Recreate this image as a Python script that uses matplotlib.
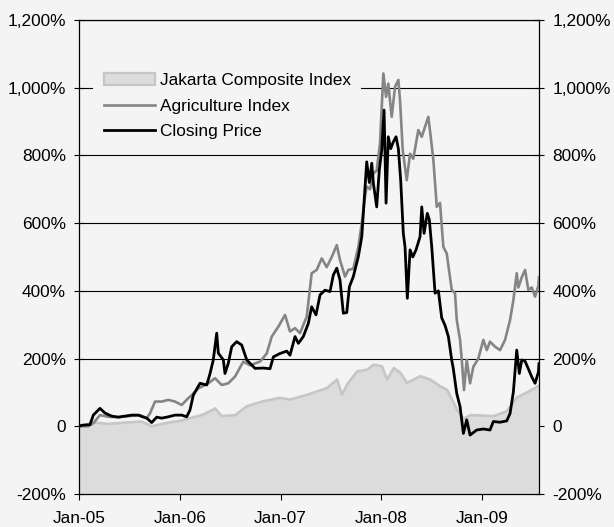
import matplotlib
matplotlib.use("Agg")
import matplotlib.pyplot as plt
from matplotlib.patches import Patch
from matplotlib.lines import Line2D
from matplotlib.ticker import FuncFormatter

# ---- data (x in decimal years, y in % change) ----
close_t = [2005.000, 2005.027, 2005.109, 2005.142, 2005.208, 2005.258, 2005.324, 2005.390, 2005.456, 2005.523,
           2005.588, 2005.622, 2005.672, 2005.721, 2005.771, 2005.820, 2005.886, 2005.952, 2006.019, 2006.068,
           2006.101, 2006.134, 2006.200, 2006.267, 2006.300, 2006.332, 2006.366, 2006.382, 2006.432, 2006.448,
           2006.481, 2006.515, 2006.564, 2006.614, 2006.664, 2006.746, 2006.828, 2006.895, 2006.928, 2006.994,
           2007.061, 2007.093, 2007.143, 2007.176, 2007.225, 2007.275, 2007.308, 2007.351, 2007.391, 2007.440,
           2007.490, 2007.523, 2007.557, 2007.589, 2007.622, 2007.656, 2007.682, 2007.721, 2007.771, 2007.805,
           2007.827, 2007.854, 2007.880, 2007.904, 2007.920, 2007.953, 2007.979, 2008.003, 2008.026, 2008.046,
           2008.068, 2008.092, 2008.118, 2008.145, 2008.168, 2008.191, 2008.217, 2008.234, 2008.257, 2008.284,
           2008.311, 2008.343, 2008.383, 2008.400, 2008.423, 2008.455, 2008.475, 2008.499, 2008.532, 2008.565,
           2008.598, 2008.631, 2008.664, 2008.697, 2008.713, 2008.747, 2008.780, 2008.813, 2008.846, 2008.879,
           2008.945, 2009.011, 2009.077, 2009.110, 2009.177, 2009.243, 2009.276, 2009.309, 2009.342, 2009.368,
           2009.392, 2009.425, 2009.457, 2009.491, 2009.524, 2009.557, 2009.563]
close_v = [0, 3, 5, 33, 53, 39, 30, 27, 30, 33,
           33, 29, 24, 11, 27, 24, 28, 33, 33, 28,
           48, 92, 127, 122, 156, 196, 275, 216, 196, 156,
           186, 235, 250, 240, 196, 171, 172, 170, 205, 215,
           222, 210, 265, 245, 265, 304, 353, 329, 388, 402,
           398, 447, 467, 432, 334, 336, 412, 442, 501, 560,
           659, 781, 720, 777, 718, 648, 757, 816, 934, 659,
           855, 820, 840, 855, 820, 727, 570, 530, 378, 521,
           500, 521, 560, 648, 570, 629, 610, 530, 393, 400,
           320, 298, 265, 196, 170, 97, 58, -21, 19, -26,
           -11, -8, -11, 14, 12, 16, 38, 102, 225, 156,
           196, 192, 170, 146, 127, 160, 185]

agri_t = [2005.000, 2005.092, 2005.142, 2005.208, 2005.291, 2005.390, 2005.489, 2005.605, 2005.672, 2005.704,
          2005.754, 2005.820, 2005.886, 2005.952, 2006.019, 2006.084, 2006.118, 2006.184, 2006.283, 2006.349,
          2006.416, 2006.481, 2006.548, 2006.630, 2006.696, 2006.796, 2006.862, 2006.912, 2006.977, 2007.044,
          2007.093, 2007.143, 2007.192, 2007.259, 2007.308, 2007.358, 2007.408, 2007.457, 2007.507, 2007.557,
          2007.589, 2007.639, 2007.672, 2007.721, 2007.771, 2007.805, 2007.837, 2007.854, 2007.887, 2007.920,
          2007.953, 2007.986, 2008.019, 2008.046, 2008.068, 2008.102, 2008.135, 2008.168, 2008.185, 2008.211,
          2008.251, 2008.284, 2008.316, 2008.366, 2008.400, 2008.433, 2008.465, 2008.489, 2008.515, 2008.549,
          2008.581, 2008.614, 2008.648, 2008.697, 2008.730, 2008.747, 2008.780, 2008.797, 2008.819, 2008.846,
          2008.879, 2008.912, 2008.961, 2009.011, 2009.045, 2009.077, 2009.127, 2009.177, 2009.226, 2009.276,
          2009.309, 2009.342, 2009.358, 2009.392, 2009.425, 2009.457, 2009.491, 2009.524, 2009.557, 2009.563]
agri_v = [0, 0, 9, 33, 28, 27, 30, 33, 24, 38,
          73, 73, 78, 73, 63, 83, 92, 112, 127, 142,
          122, 127, 147, 191, 180, 191, 215, 265, 294, 329,
          280, 290, 275, 324, 452, 462, 496, 470, 500, 535,
          491, 442, 462, 465, 530, 600, 678, 708, 700, 747,
          755, 836, 1042, 973, 1012, 914, 1003, 1023, 960, 816,
          727, 805, 790, 875, 855, 885, 914, 855, 787, 648,
          660, 530, 510, 403, 393, 314, 255, 196, 107, 196,
          127, 176, 200, 255, 225, 250, 235, 225, 255, 314,
          373, 452, 410, 440, 462, 403, 410, 383, 415, 440]

jci_t = [2005.000, 2005.159, 2005.291, 2005.456, 2005.622, 2005.721, 2005.886, 2006.019, 2006.101, 2006.217,
         2006.332, 2006.349, 2006.416, 2006.548, 2006.664, 2006.828, 2006.994, 2007.093, 2007.262, 2007.460,
         2007.560, 2007.609, 2007.659, 2007.758, 2007.857, 2007.923, 2008.006, 2008.056, 2008.122, 2008.188,
         2008.254, 2008.320, 2008.386, 2008.485, 2008.584, 2008.651, 2008.700, 2008.750, 2008.816, 2008.882,
         2008.981, 2009.114, 2009.246, 2009.345, 2009.444, 2009.563]
jci_v = [0, 11, 7, 11, 14, 0, 11, 17, 24, 33,
         49, 53, 30, 33, 59, 74, 84, 79, 93, 113,
         138, 93, 123, 162, 167, 182, 177, 138, 172, 158,
         128, 138, 148, 138, 118, 108, 79, 49, 22, 33,
         32, 30, 45, 85, 100, 120]

years = [2005, 2006, 2007, 2008, 2009]
year_labels = ["Jan-05", "Jan-06", "Jan-07", "Jan-08", "Jan-09"]
y_ticks = [-200, 0, 200, 400, 600, 800, 1000, 1200]

labels = ["Jakarta Composite Index", "Agriculture Index", "Closing Price"]

# ---- styling ----
BG = "#f4f4f4"
plt.rcParams["font.family"] = ["Liberation Sans", "DejaVu Sans"]
FS = 12.4

fig = plt.figure(figsize=(6.14, 5.27), dpi=100, facecolor=BG)
ax = fig.add_axes([79 / 614, 33 / 527, 460 / 614, 474 / 527])
ax.set_facecolor(BG)

ymin, ymax = -200, 1200
ax.fill_between(jci_t, jci_v, ymin, color="#dcdcdc", lw=0, zorder=1)
ax.plot(jci_t, jci_v, color="#c6c6c6", lw=1.9, zorder=2)
ax.plot(agri_t, agri_v, color="#858585", lw=1.9, zorder=3)
ax.plot(close_t, close_v, color="#000000", lw=2.0, zorder=4)

ax.set_xlim(2005.0, 2009.563)
ax.set_ylim(ymin, ymax)
ax.set_xticks(years)
ax.set_xticklabels(year_labels)
ax.set_yticks(y_ticks)
ax.yaxis.set_major_formatter(FuncFormatter(lambda v, p: "0" if v == 0 else f"{v:,.0f}%"))

ax.set_axisbelow(True)
ax.yaxis.grid(True, color="black", lw=0.8)
ax.xaxis.grid(False)

for s in ax.spines.values():
    s.set_color("black")
    s.set_linewidth(0.9)

ax.tick_params(axis="y", which="both", direction="inout", length=7, width=0.8,
               left=True, right=True, labelleft=True, labelright=True, labelsize=FS, pad=6)
ax.tick_params(axis="x", direction="out", length=4, width=0.8, labelsize=FS, pad=8)

handles = [
    Patch(facecolor="#dcdcdc", edgecolor="#c6c6c6", linewidth=1.6),
    Line2D([], [], color="#858585", lw=1.9),
    Line2D([], [], color="#000000", lw=2.0),
]
leg = ax.legend(handles, labels, loc="upper left", bbox_to_anchor=(0.031, 0.910),
                frameon=True, facecolor=BG, edgecolor="none", framealpha=1,
                fontsize=FS, handlelength=3.0, handleheight=0.7, handletextpad=0.25,
                labelspacing=0.61, borderpad=0.6, borderaxespad=0, fancybox=False)

fig.savefig("out.png", dpi=100, facecolor=BG)
